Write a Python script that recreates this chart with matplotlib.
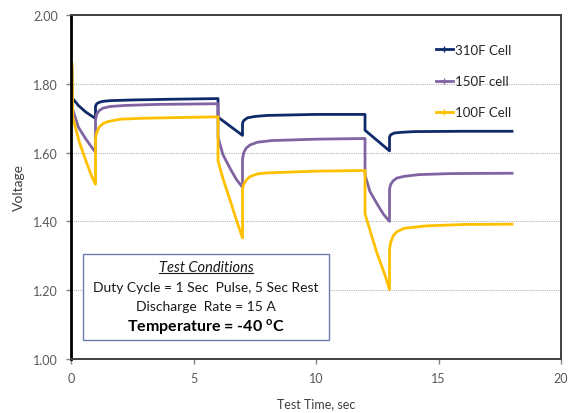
import numpy as np
import matplotlib
matplotlib.use('Agg')
import matplotlib.pyplot as plt
from matplotlib.lines import Line2D
from matplotlib.patches import Rectangle

plt.rcParams['font.family'] = ['Lato', 'DejaVu Sans']
plt.rcParams['mathtext.fontset'] = 'custom'
plt.rcParams['mathtext.rm'] = 'Lato'
plt.rcParams['mathtext.bf'] = 'Lato:bold'

# values (time in sec, voltage in V)
t_310 = [0.04, 0.3, 0.6, 1.0, 1.0, 1.05, 1.15, 1.3, 1.6, 2.5, 4.0, 6.0,
         6.0, 7.0, 7.0, 7.05, 7.2, 7.5, 8.0, 10.0, 12.0,
         12.0, 13.0, 13.0, 13.05, 13.2, 13.5, 14.0, 16.0, 18.0]
v_310 = [1.760, 1.737, 1.718, 1.699, 1.735, 1.742, 1.746, 1.749, 1.751, 1.753, 1.755, 1.757,
         1.703, 1.650, 1.686, 1.693, 1.701, 1.705, 1.708, 1.711, 1.711,
         1.665, 1.605, 1.645, 1.652, 1.657, 1.659, 1.661, 1.662, 1.662]

t_150 = [0.04, 0.07, 0.3, 0.6, 0.85, 1.0, 1.0, 1.05, 1.15, 1.3, 1.6, 2.2, 3.5, 6.0,
         6.0, 6.2, 6.5, 6.75, 7.0, 7.0, 7.05, 7.15, 7.3, 7.6, 8.2, 10.0, 12.0,
         12.0, 12.2, 12.5, 12.75, 13.0, 13.0, 13.05, 13.15, 13.3, 13.6, 14.2, 15.5, 18.0]
v_150 = [1.845, 1.725, 1.674, 1.640, 1.615, 1.601, 1.695, 1.712, 1.722, 1.729, 1.734, 1.737, 1.740, 1.742,
         1.645, 1.594, 1.553, 1.522, 1.499, 1.582, 1.600, 1.613, 1.622, 1.630, 1.635, 1.639, 1.641,
         1.535, 1.487, 1.450, 1.421, 1.400, 1.494, 1.508, 1.518, 1.526, 1.531, 1.536, 1.539, 1.540]

t_100 = [0.04, 0.07, 0.35, 0.6, 0.85, 1.0, 1.0, 1.05, 1.15, 1.3, 1.5, 2.0, 3.0, 6.0,
         6.0, 6.2, 6.5, 6.75, 7.0, 7.0, 7.05, 7.15, 7.3, 7.6, 8.0, 10.0, 12.0,
         12.0, 12.25, 12.5, 12.8, 13.0, 13.0, 13.05, 13.15, 13.3, 13.6, 14.5, 16.0, 18.0]
v_100 = [1.858, 1.703, 1.628, 1.578, 1.530, 1.508, 1.640, 1.658, 1.674, 1.684, 1.690, 1.697, 1.700, 1.704,
         1.576, 1.525, 1.460, 1.404, 1.352, 1.495, 1.508, 1.520, 1.530, 1.538, 1.541, 1.546, 1.548,
         1.422, 1.363, 1.305, 1.247, 1.202, 1.320, 1.340, 1.358, 1.370, 1.380, 1.387, 1.391, 1.392]

series_names = ['310F Cell', '150F cell', '100F Cell']
series_colors = ['#0f2a6a', '#8064a2', '#ffc000']

x_ticks = [0, 5, 10, 15, 20]
y_ticks = [1.00, 1.20, 1.40, 1.60, 1.80, 2.00]

fig = plt.figure(figsize=(5.69, 4.14), dpi=100)
ax = fig.add_axes([0.1248, 0.1304, 0.8612, 0.831])

ax.set_axisbelow(True)
ax.yaxis.grid(True, color='#b5b5b5', linestyle=(0, (1, 1)), linewidth=0.8)

all_t = [t_310, t_150, t_100]
all_v = [v_310, v_150, v_100]
for tt, vv, c in zip(all_t, all_v, series_colors):
    ax.plot(tt, vv, color=c, linewidth=2.0, solid_joinstyle='round')

ax.set_xlim(0, 20)
ax.set_ylim(1.0, 2.0)
ax.set_xticks(x_ticks)
ax.set_yticks(y_ticks)
ax.set_yticklabels(['%.2f' % y for y in y_ticks])
ax.tick_params(axis='both', direction='out', length=3.5, width=1, color='#808080',
               labelsize=9, labelcolor='#595959', pad=6)

for s in ['top', 'right', 'bottom']:
    ax.spines[s].set_color('#404040')
    ax.spines[s].set_linewidth(1.4)
ax.spines['left'].set_color('#000000')
ax.spines['left'].set_linewidth(2)

ax.set_ylabel('Voltage', fontsize=10, color='#404040', labelpad=6)
ax.set_xlabel('Test Time, sec', fontsize=9, color='#404040', labelpad=9)

handles = [Line2D([0], [0], color=c, linewidth=2, marker='+', markersize=4)
           for c in series_colors]
ax.legend(handles, series_names, loc='upper left', bbox_to_anchor=(0.72, 0.95),
          frameon=False, fontsize=9.5, handlelength=1.3, handletextpad=0.15,
          labelspacing=1.45, labelcolor='#262626')

# test conditions box
box = Rectangle((0.0245, 0.055), 0.502, 0.25, transform=ax.transAxes,
                facecolor='white', edgecolor='#6b7fae', linewidth=1, zorder=5)
ax.add_patch(box)
xc = 0.2755
title = ax.text(xc, 0.267, 'Test Conditions', transform=ax.transAxes, ha='center', va='center',
                fontsize=10.5, style='italic', color='#1a1a1a', zorder=6)
ax.text(xc, 0.209, 'Duty Cycle = 1 Sec  Pulse, 5 Sec Rest', transform=ax.transAxes,
        ha='center', va='center', fontsize=10, color='#1a1a1a', zorder=6)
ax.text(xc, 0.154, 'Discharge  Rate = 15 A', transform=ax.transAxes,
        ha='center', va='center', fontsize=10, color='#1a1a1a', zorder=6)
ax.text(xc, 0.096, r'Temperature = -40 $^{\mathbf{o}}$C', transform=ax.transAxes,
        ha='center', va='center', fontsize=11.5, fontweight='bold', color='#000000', zorder=6)

# underline the box title
fig.canvas.draw()
bb = title.get_window_extent().transformed(ax.transAxes.inverted())
ax.add_line(Line2D([bb.x0, bb.x1], [bb.y0 + 0.004, bb.y0 + 0.004], transform=ax.transAxes,
                   color='#1a1a1a', linewidth=0.8, zorder=6))

fig.savefig('out.png', dpi=100)
